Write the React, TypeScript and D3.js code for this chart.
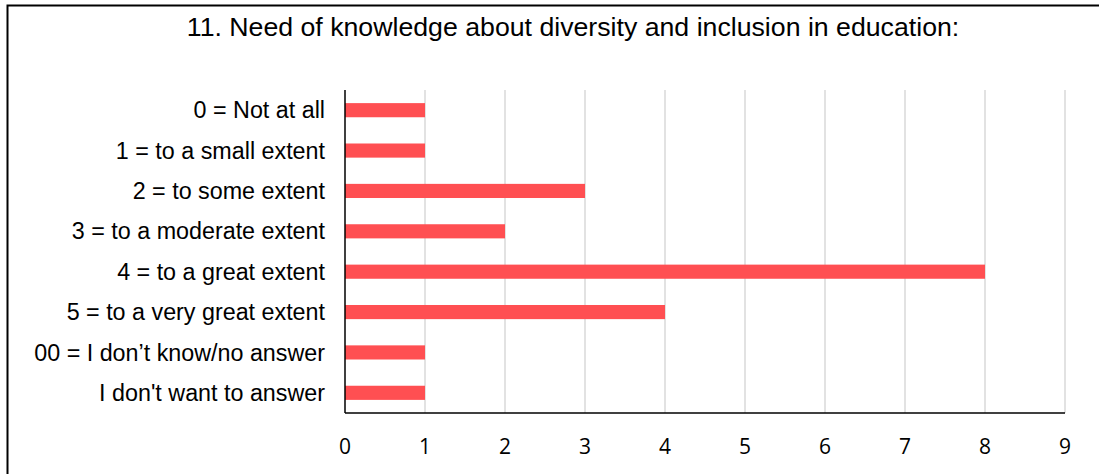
import React from "react";
import * as d3 from "d3";

const categories = [
  "0 = Not at all",
  "1 = to a small extent",
  "2 = to some extent",
  "3 = to a moderate extent",
  "4 = to a great extent",
  "5 = to a very great extent",
  "00 = I don\u2019t know/no answer",
  "I don't want to answer",
];
const values = [1, 1, 3, 2, 8, 4, 1, 1];
const xTicks = [0, 1, 2, 3, 4, 5, 6, 7, 8, 9];
const title = "11. Need of knowledge about diversity and inclusion in education:";

export default function App() {
  const W = 1099, H = 474;
  const left = 345, right = 1065, top = 90, bottom = 413;
  const x = d3.scaleLinear().domain([0, 9]).range([left, right]);
  const y = d3.scaleBand().domain(categories).range([top, bottom]).paddingInner(0.65).paddingOuter(0.325);
  return (
    <svg width={W} height={H} style={{ position: "absolute", left: 0, top: 0 }}>
      <rect x={0} y={0} width={W} height={H} fill="#fff" />
      <rect x={7.5} y={5.5} width={W + 10} height={H + 10} fill="none" stroke="#000" strokeWidth={2} />
      <text x={573} y={36} textAnchor="middle" fontFamily="Liberation Sans, Arial, sans-serif" fontSize={26.7} fill="#000">{title}</text>
      {xTicks.filter(t => t > 0).map(t => (
        <line key={t} x1={x(t)} x2={x(t)} y1={top} y2={bottom} stroke="#d9d9d9" strokeWidth={1.5} />
      ))}
      {categories.map((c, i) => (
        <rect key={c} x={x(0)} y={y(c)!} width={x(values[i]) - x(0)} height={y.bandwidth()} fill="#FF4F52" />
      ))}
      <line x1={left} x2={left} y1={top} y2={bottom} stroke="#000" strokeWidth={1.5} />
      <line x1={left} x2={right} y1={bottom} y2={bottom} stroke="#000" strokeWidth={1.5} />
      {xTicks.map(t => (
        <text key={t} x={x(t)} y={453.5} textAnchor="middle" fontFamily="Open Sans, sans-serif" fontSize={21} fill="#000">{t}</text>
      ))}
      {categories.map(c => (
        <text key={c} x={325} y={y(c)! + y.bandwidth() / 2} dy="0.35em" textAnchor="end" fontFamily="Liberation Sans, Arial, sans-serif" fontSize={23.3} fill="#000">{c}</text>
      ))}
    </svg>
  );
}
